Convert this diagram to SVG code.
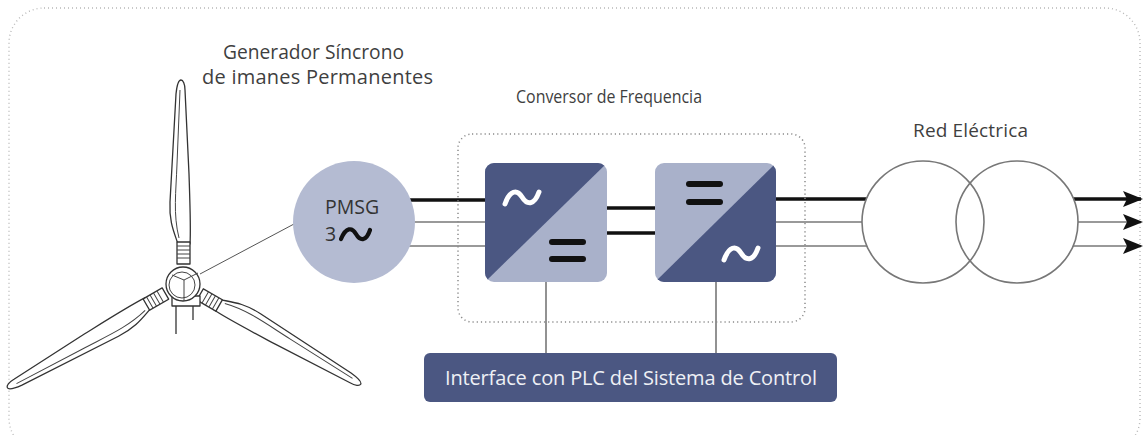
<svg xmlns="http://www.w3.org/2000/svg" width="1143" height="435" viewBox="0 0 1143 435">
  <style>
    .lbl { font-family: "Open Sans", "Liberation Sans", sans-serif; fill: #3f3f3f; }
    .frame { fill: none; stroke: #b8b8b8; stroke-width: 1.4; stroke-dasharray: 1 3; }
    .group { fill: none; stroke: #8a8a8a; stroke-width: 1.5; stroke-dasharray: 1.2 3; }
    .thick { stroke: #111; stroke-width: 3.5; fill: none; }
    .thin { stroke: #777; stroke-width: 1.6; fill: none; }
    .ctl { stroke: #777; stroke-width: 1.6; fill: none; }
    .dc { stroke: #111; stroke-width: 3.5; fill: none; }
    .dark { fill: #4b5782; }
    .light { fill: #a9b1ca; }
    .bar { fill: #111; }
    .wave { fill: none; stroke: #fff; stroke-width: 5; stroke-linecap: round; }
    .ink { fill: #fff; stroke: #333; stroke-width: 1.3; stroke-linejoin: round; }
    .inkline { fill: none; stroke: #444; stroke-width: 1; }
    .coil { fill: none; stroke: #777; stroke-width: 1.6; }
  </style>
  <defs>
    <marker id="arrow" markerUnits="userSpaceOnUse" markerWidth="20" markerHeight="16" viewBox="0 0 20 16" refX="18" refY="8" orient="auto">
      <path d="M0,0 L20,8 L0,16 L4,8 Z" fill="#111"/>
    </marker>
    <!-- one rotor blade, pointing up from the hub centre -->
    <g id="blade">
      <path class="ink" d="M -5,-40 C -9,-52 -14,-62 -13,-82 L -7,-190 C -6,-200 -4,-204 -2,-204 C 0,-204 2,-200 2,-194 L 6,-110 C 7,-80 8,-55 7,-40 Z"/>
      <path class="inkline" d="M -3,-194 L -6,-120 C -7,-92 -10,-70 -4,-46"/>
      <rect class="ink" x="-6" y="-42" width="13" height="22"/>
      <path class="inkline" d="M -6,-38 H 7 M -6,-34 H 7 M -6,-30 H 7 M -6,-26 H 7" stroke-width="1.4"/>
    </g>
    <clipPath id="clipA"><rect x="485" y="163" width="122" height="119" rx="9"/></clipPath>
    <clipPath id="clipB"><rect x="655" y="163" width="121" height="119" rx="9"/></clipPath>
  </defs>

  <!-- outer frame -->
  <rect class="frame" x="9" y="8" width="1131" height="445" rx="35"/>

  <!-- wind turbine rotor -->
  <g id="turbine">
    <line x1="176" y1="300" x2="176" y2="334" stroke="#333" stroke-width="1.3"/>
    <line x1="193" y1="300" x2="193" y2="320" stroke="#333" stroke-width="1.3"/>
    <g transform="translate(183,284)">
      <use href="#blade"/>
      <use href="#blade" transform="rotate(120)"/>
      <use href="#blade" transform="rotate(-120)"/>
      <rect class="ink" x="-11" y="12" width="28" height="10"/>
      <circle class="ink" cx="0" cy="0" r="17" stroke-width="1.6"/>
      <circle class="inkline" cx="-1" cy="1" r="13"/>
      <path class="inkline" d="M 1,-4 L -11,-9 M 1,-4 L 15,-11 M 1,-4 L 1,17" stroke-width="1.3"/>
    </g>
  </g>

  <!-- connectors -->
  <g id="connectors">
    <line x1="200" y1="274" x2="294" y2="224" stroke="#555" stroke-width="1"/>
    <!-- generator to rectifier -->
    <line class="thick" x1="354" y1="200" x2="486" y2="200"/>
    <line class="thin" x1="354" y1="222" x2="486" y2="222"/>
    <line class="thin" x1="354" y1="246" x2="486" y2="246"/>
    <!-- DC link -->
    <line class="dc" x1="606" y1="208" x2="656" y2="208"/>
    <line class="dc" x1="606" y1="233" x2="656" y2="233"/>
    <!-- inverter to transformer -->
    <line class="thick" x1="775" y1="199" x2="923" y2="199"/>
    <line class="thin" x1="775" y1="222" x2="923" y2="222"/>
    <line class="thin" x1="775" y1="246" x2="923" y2="246"/>
    <!-- control links -->
    <line class="ctl" x1="546" y1="282" x2="546" y2="353"/>
    <line class="ctl" x1="716" y1="282" x2="716" y2="353"/>
  </g>

  <!-- grid output arrows -->
  <g id="grid-out">
    <line class="thick" x1="1017" y1="199" x2="1141" y2="199" marker-end="url(#arrow)"/>
    <line class="thin" x1="1017" y1="222" x2="1141" y2="222" stroke="#666" marker-end="url(#arrow)"/>
    <line class="thin" x1="1017" y1="246" x2="1141" y2="246" stroke="#666" marker-end="url(#arrow)"/>
  </g>

  <!-- generator -->
  <g id="pmsg">
    <circle cx="354" cy="222" r="61" fill="#b4bbd2"/>
    <text class="lbl" x="325" y="214" style="font-size:19.5px;fill:#333">PMSG</text>
    <text class="lbl" x="325" y="241" style="font-size:19.5px;fill:#333">3</text>
    <path d="M 341,239 C 346,227 352,227 356,234 S 366,242 370,230" fill="none" stroke="#111" stroke-width="4.2" stroke-linecap="round"/>
    <text class="lbl" x="223" y="59" style="font-size:20px" textLength="181" lengthAdjust="spacingAndGlyphs">Generador Síncrono</text>
    <text class="lbl" x="202" y="84" style="font-size:20px" textLength="231" lengthAdjust="spacing">de imanes Permanentes</text>
  </g>

  <!-- frequency converter -->
  <g id="converter">
    <rect class="group" x="458" y="134" width="347" height="188" rx="14"/>
    <text class="lbl" x="516" y="103" style="font-size:18px" textLength="186" lengthAdjust="spacingAndGlyphs">Conversor de Frequencia</text>
  </g>

  <g id="rectifier">
    <g clip-path="url(#clipA)">
      <rect class="light" x="485" y="163" width="122" height="119"/>
      <polygon class="dark" points="485,163 607,163 485,282"/>
    </g>
    <path class="wave" d="M 505,204 C 510,190 517,189 522,197 S 534,206 539,192"/>
    <rect class="bar" x="549" y="239" width="37" height="6" rx="3"/>
    <rect class="bar" x="549" y="256" width="37" height="6" rx="3"/>
  </g>

  <g id="inverter">
    <g clip-path="url(#clipB)">
      <rect class="light" x="655" y="163" width="121" height="119"/>
      <polygon class="dark" points="776,163 776,282 655,282"/>
    </g>
    <rect class="bar" x="686" y="181" width="37" height="6" rx="3"/>
    <rect class="bar" x="686" y="199" width="37" height="6" rx="3"/>
    <path class="wave" d="M 724,260 C 729,246 736,245 741,253 S 753,262 758,248"/>
  </g>

  <!-- transformer -->
  <g id="transformer">
    <circle cx="923" cy="222" r="61" fill="#fff"/>
    <circle cx="1017" cy="222" r="61" fill="#fff"/>
    <circle class="coil" cx="923" cy="222" r="61"/>
    <circle class="coil" cx="1017" cy="222" r="61"/>
    <text class="lbl" x="913" y="137" style="font-size:19px" textLength="115" lengthAdjust="spacing">Red Eléctrica</text>
  </g>

  <!-- control interface -->
  <g id="plc">
    <rect class="dark" x="424" y="353" width="413" height="49" rx="6"/>
    <text class="lbl" x="445" y="385" style="font-size:20px;fill:#eef0f5" textLength="372" lengthAdjust="spacing">Interface con PLC del Sistema de Control</text>
  </g>
</svg>
